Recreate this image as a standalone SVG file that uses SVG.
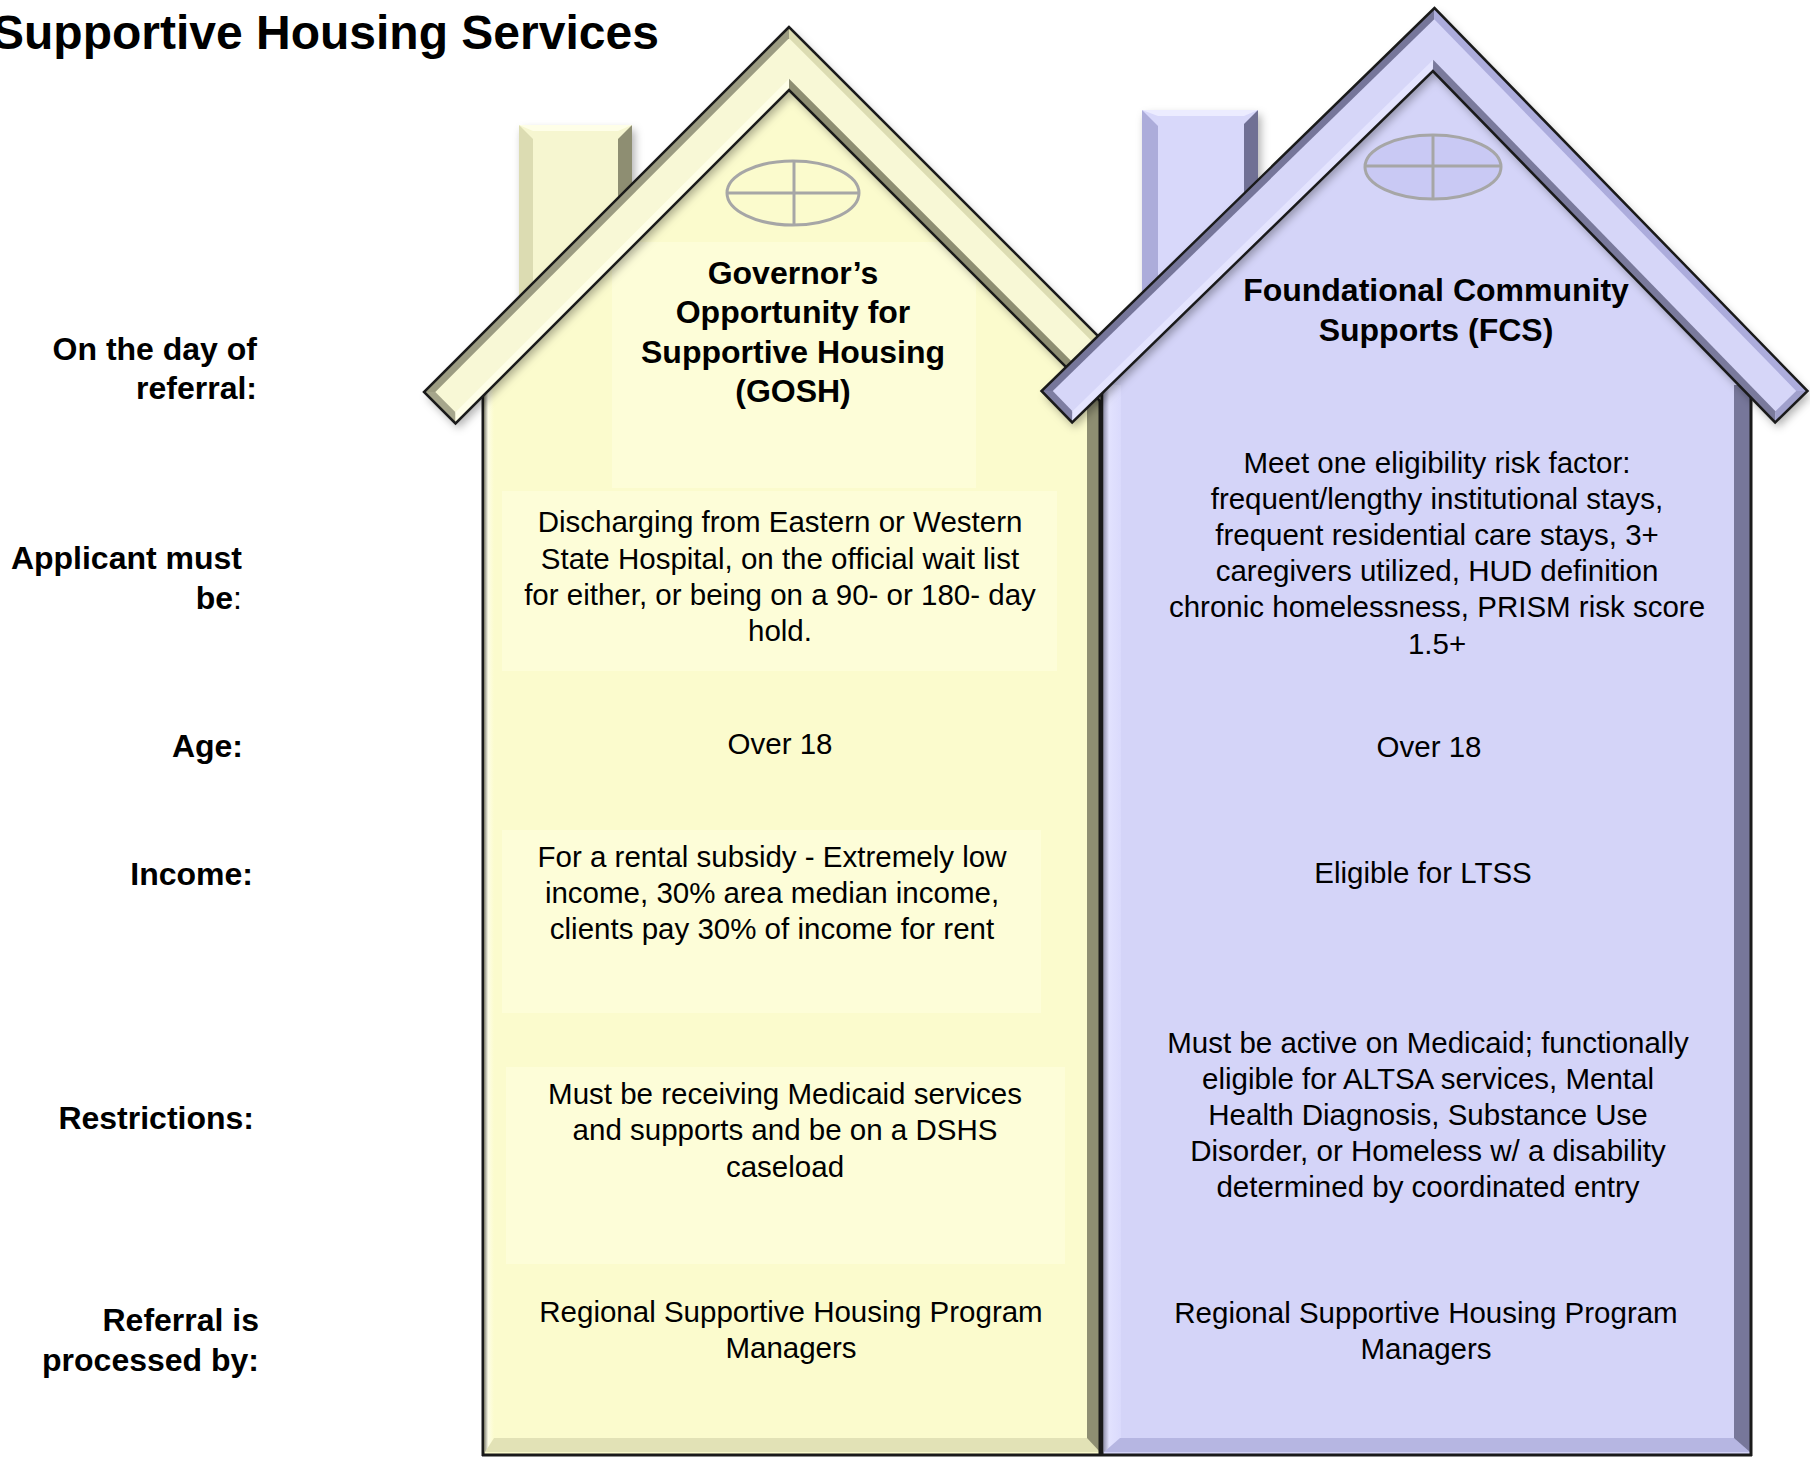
<svg xmlns="http://www.w3.org/2000/svg" width="1810" height="1458" viewBox="0 0 1810 1458">
<defs>
<style>
.ttl{font-family:"Liberation Sans",Arial,sans-serif;font-weight:bold;font-size:48px;fill:#000}
.lbl{font-family:"Liberation Sans",Arial,sans-serif;font-weight:bold;font-size:32px;fill:#000;text-anchor:end}
.hd{font-family:"Liberation Sans",Arial,sans-serif;font-weight:bold;font-size:32px;fill:#000;text-anchor:middle}
.tx{font-family:"Liberation Sans",Arial,sans-serif;font-size:29.5px;fill:#000;text-anchor:middle}
.reg{font-weight:normal}
.outl{fill:none;stroke:#1a1a1a;stroke-width:2.5;stroke-linejoin:miter}
.edge{stroke:#1a1a1a;stroke-width:3}
.win{stroke:#a6a6a6;stroke-width:3}
</style>
<filter id="sh" x="-10%" y="-10%" width="125%" height="130%">
<feDropShadow dx="3" dy="5" stdDeviation="4" flood-color="#000" flood-opacity="0.3"/>
</filter>
<linearGradient id="gyl" x1="0" y1="0" x2="1" y2="0">
<stop offset="0" stop-color="#9c9c90"/><stop offset="0.35" stop-color="#fefee6"/><stop offset="1" stop-color="#fbfbcd"/>
</linearGradient>
<linearGradient id="gpl" x1="0" y1="0" x2="1" y2="0">
<stop offset="0" stop-color="#9a9ab4"/><stop offset="0.3" stop-color="#e2e2fe"/><stop offset="1" stop-color="#dadafc"/>
</linearGradient>
</defs>
<rect width="1810" height="1458" fill="#fff"/>

<text id="title" class="ttl" x="-8" y="49">Supportive Housing Services</text>

<g id="row-labels">
<text class="lbl" x="257" y="360">On the day of</text>
<text class="lbl" x="257" y="399">referral:</text>
<text class="lbl" x="242" y="569">Applicant must</text>
<text class="lbl" x="242" y="609">be<tspan class="reg">:</tspan></text>
<text class="lbl" x="243" y="757">Age:</text>
<text class="lbl" x="253" y="885">Income:</text>
<text class="lbl" x="254" y="1129">Restrictions:</text>
<text class="lbl" x="259" y="1331">Referral is</text>
<text class="lbl" x="259" y="1371">processed by:</text>
</g>

<g id="house-gosh">
<g id="gosh-chimney" filter="url(#sh)">
<rect x="519" y="125" width="113" height="275" fill="#f6f6d0"/>
<polygon points="519,125 533,139 533,400 519,400" fill="#dcdcb2"/>
<polygon points="632,125 618,139 618,400 632,400" fill="#8e8e72"/>
<polygon points="519,125 632,125 618,131 533,131" fill="#fefee8"/>
</g>
<g id="gosh-wall">
<polygon points="482,1456 482,385 789,60 1100,390 1100,1456" fill="#fbfbcd"/>
<rect x="612" y="242" width="364" height="246" fill="#fdfdd8"/>
<rect x="502" y="491" width="555" height="180" fill="#fdfdd8"/>
<rect x="502" y="830" width="539" height="183" fill="#fdfdd8"/>
<rect x="506" y="1067" width="559" height="197" fill="#fdfdd8"/>
<rect x="485" y="390" width="9" height="1062" fill="url(#gyl)"/>
<rect x="1087" y="390" width="13" height="1062" fill="#8e8e72"/>
<polygon points="485,1452 494,1438 1087,1438 1100,1452" fill="#e2e2b6"/>
<line class="edge" x1="483" y1="392" x2="483" y2="1456"/>
<line class="edge" x1="482" y1="1455" x2="1101" y2="1455"/>
<line class="edge" x1="1100" y1="395" x2="1100" y2="1456"/>
</g>
<g id="gosh-window">
<ellipse class="win" cx="793" cy="193" rx="66" ry="32" fill="none"/>
<line class="win" x1="727" y1="193" x2="859" y2="193"/>
<line class="win" x1="794" y1="161" x2="794" y2="225"/>
</g>
<g id="gosh-roof">
<polygon points="789,27 424,392 455.5,423.5 789,90 1122.5,423.5 1154,392" fill="#f8f8d6" filter="url(#sh)"/>
<polygon points="789,27 424,392 435.3,392 789,38.3" fill="#9c9c82"/>
<polygon points="424,392 455.5,423.5 455.5,412.2 435.3,392" fill="#a6a68c"/>
<polygon points="455.5,423.5 789,90 789,78.7 455.5,412.2" fill="#fefee8"/>
<polygon points="789,90 1122.5,423.5 1122.5,412.2 789,78.7" fill="#8e8e72"/>
<polygon points="1122.5,423.5 1154,392 1142.7,392 1122.5,412.2" fill="#c8c8a2"/>
<polygon points="1154,392 789,27 789,38.3 1142.7,392" fill="#dcdcb2"/>
<polygon class="outl" points="789,27 424,392 455.5,423.5 789,90 1122.5,423.5 1154,392"/>
</g>
<g id="gosh-text">
<text class="hd" x="793" y="284">Governor’s</text>
<text class="hd" x="793" y="323">Opportunity for</text>
<text class="hd" x="793" y="363">Supportive Housing</text>
<text class="hd" x="793" y="402">(GOSH)</text>
<text class="tx" x="780" y="532">Discharging from Eastern or Western</text>
<text class="tx" x="780" y="569">State Hospital, on the official wait list</text>
<text class="tx" x="780" y="605">for either, or being on a 90- or 180- day</text>
<text class="tx" x="780" y="641">hold.</text>
<text class="tx" x="780" y="754">Over 18</text>
<text class="tx" x="772" y="867">For a rental subsidy - Extremely low</text>
<text class="tx" x="772" y="903">income, 30% area median income,</text>
<text class="tx" x="772" y="939">clients pay 30% of income for rent</text>
<text class="tx" x="785" y="1104">Must be receiving Medicaid services</text>
<text class="tx" x="785" y="1140">and supports and be on a DSHS</text>
<text class="tx" x="785" y="1177">caseload</text>
<text class="tx" x="791" y="1322">Regional Supportive Housing Program</text>
<text class="tx" x="791" y="1358">Managers</text>
</g>
</g>

<g id="house-fcs">
<g id="fcs-chimney" filter="url(#sh)">
<rect x="1142" y="110" width="116" height="275" fill="#d8d8fa"/>
<polygon points="1142,110 1158,126 1158,385 1142,385" fill="#acacda"/>
<polygon points="1258,110 1244,124 1244,385 1258,385" fill="#707094"/>
<polygon points="1142,110 1258,110 1244,116 1158,116" fill="#ececff"/>
</g>
<g id="fcs-wall">
<polygon points="1101,1456 1101,380 1433,50 1752,385 1752,1456" fill="#d4d4f8"/>
<rect x="1104" y="385" width="17" height="1067" fill="url(#gpl)"/>
<rect x="1734" y="385" width="16" height="1067" fill="#77779a"/>
<polygon points="1104,1452 1120,1438 1734,1438 1750,1452" fill="#b6b6e2"/>
<line class="edge" x1="1102" y1="390" x2="1102" y2="1456"/>
<line class="edge" x1="1751" y1="392" x2="1751" y2="1456"/>
<line class="edge" x1="1101" y1="1455" x2="1752" y2="1455"/>
</g>
<g id="fcs-window">
<ellipse class="win" cx="1433" cy="167" rx="68" ry="32" fill="#c9c9f4"/>
<line class="win" x1="1365" y1="166" x2="1501" y2="166"/>
<line class="win" x1="1433" y1="135" x2="1433" y2="199"/>
</g>
<g id="fcs-roof" transform="matrix(1,0,-0.02618,1,10.236,0)">
<polygon points="1424.5,8 1041.5,391 1073,422.5 1424.5,71 1776,422.5 1807.5,391" fill="#d6d6f8" filter="url(#sh)"/>
<polygon points="1424.5,8 1041.5,391 1052.8,391 1424.5,19.3" fill="#76769a"/>
<polygon points="1041.5,391 1073,422.5 1073,411.2 1052.8,391" fill="#7e7ea2"/>
<polygon points="1073,422.5 1424.5,71 1424.5,59.7 1073,411.2" fill="#e4e4fe"/>
<polygon points="1424.5,71 1776,422.5 1776,411.2 1424.5,59.7" fill="#7a7a9c"/>
<polygon points="1776,422.5 1807.5,391 1796.2,391 1776,411.2" fill="#a0a0cc"/>
<polygon points="1807.5,391 1424.5,8 1424.5,19.3 1796.2,391" fill="#acacdc"/>
<polygon class="outl" points="1424.5,8 1041.5,391 1073,422.5 1424.5,71 1776,422.5 1807.5,391"/>
</g>
<g id="fcs-text">
<text class="hd" x="1436" y="301">Foundational Community</text>
<text class="hd" x="1436" y="341">Supports (FCS)</text>
<text class="tx" x="1437" y="473">Meet one eligibility risk factor:</text>
<text class="tx" x="1437" y="509">frequent/lengthy institutional stays,</text>
<text class="tx" x="1437" y="545">frequent residential care stays, 3+</text>
<text class="tx" x="1437" y="581">caregivers utilized, HUD definition</text>
<text class="tx" x="1437" y="617">chronic homelessness, PRISM risk score</text>
<text class="tx" x="1437" y="654">1.5+</text>
<text class="tx" x="1429" y="757">Over 18</text>
<text class="tx" x="1423" y="883">Eligible for LTSS</text>
<text class="tx" x="1428" y="1053">Must be active on Medicaid; functionally</text>
<text class="tx" x="1428" y="1089">eligible for ALTSA services, Mental</text>
<text class="tx" x="1428" y="1125">Health Diagnosis, Substance Use</text>
<text class="tx" x="1428" y="1161">Disorder, or Homeless w/ a disability</text>
<text class="tx" x="1428" y="1197">determined by coordinated entry</text>
<text class="tx" x="1426" y="1323">Regional Supportive Housing Program</text>
<text class="tx" x="1426" y="1359">Managers</text>
</g>
</g>
</svg>
